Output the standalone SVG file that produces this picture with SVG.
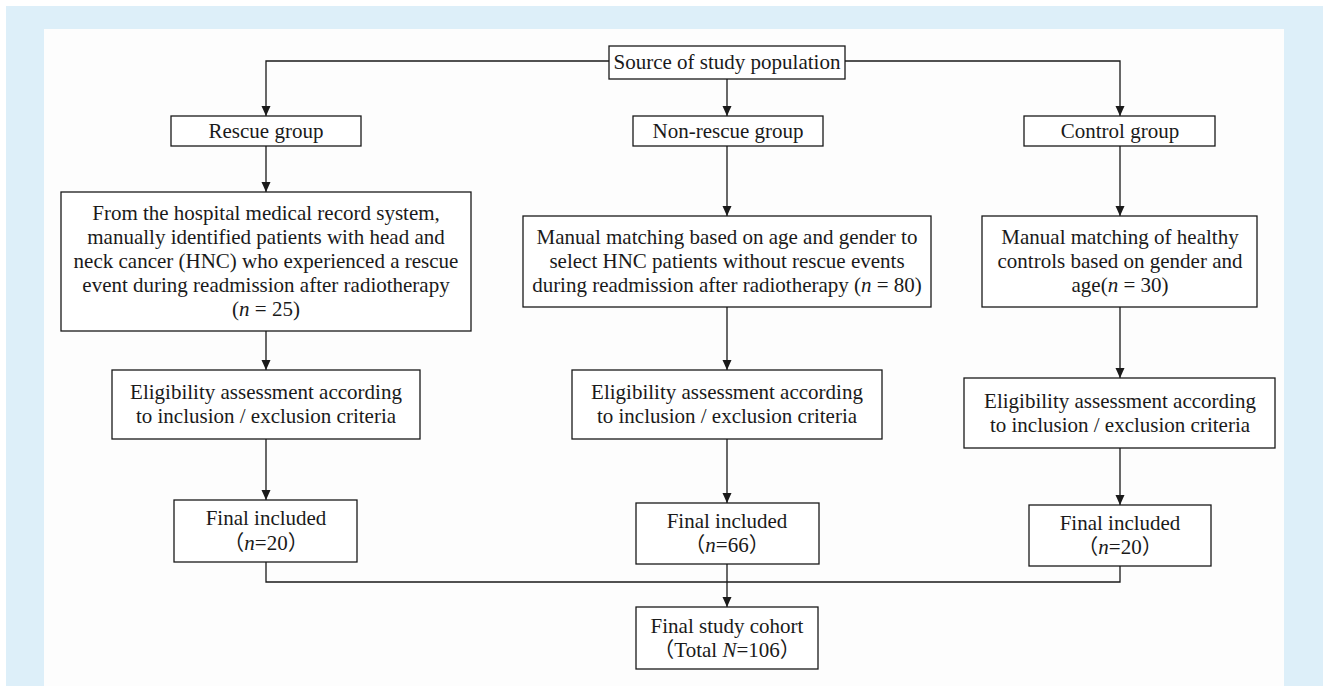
<svg xmlns="http://www.w3.org/2000/svg" width="1323" height="686" viewBox="0 0 1323 686">
  <defs>
    <marker id="arr" markerUnits="userSpaceOnUse" markerWidth="10" markerHeight="10" refX="10" refY="5" orient="auto">
      <path d="M0,0.5 L10,5 L0,9.5 z" fill="#1a1a1a"/>
    </marker>
    <style>
      .box { fill: #ffffff; stroke: #1a1a1a; stroke-width: 1.3; }
      .t { font-family: "Liberation Serif", "Noto Sans CJK SC", serif; font-size: 21px; fill: #1a1a1a; text-anchor: middle; }
      .c { fill: none; stroke: #1a1a1a; stroke-width: 1.3; }
      .a { marker-end: url(#arr); }
    </style>
  </defs>

  <rect x="0" y="0" width="1323" height="686" fill="#ffffff"/>
  <rect x="6" y="6" width="1317" height="680" fill="#ddeff9"/>
  <rect x="44" y="29" width="1240" height="657" fill="#fdfdfd"/>

  <g id="connectors">
    <polyline class="c a" points="609,61 266,61 266,116"/>
    <polyline class="c a" points="845,61 1120,61 1120,116"/>
    <line class="c a" x1="727" y1="79" x2="727" y2="116"/>
    <line class="c a" x1="266" y1="146" x2="266" y2="192"/>
    <line class="c a" x1="727" y1="146" x2="727" y2="216"/>
    <line class="c a" x1="1120" y1="146" x2="1120" y2="216"/>
    <line class="c a" x1="266" y1="331" x2="266" y2="370"/>
    <line class="c a" x1="727" y1="307" x2="727" y2="370"/>
    <line class="c a" x1="1120" y1="307" x2="1120" y2="378"/>
    <line class="c a" x1="266" y1="439" x2="266" y2="500"/>
    <line class="c a" x1="727" y1="439" x2="727" y2="503"/>
    <line class="c a" x1="1120" y1="448" x2="1120" y2="505"/>
    <polyline class="c" points="266,562 266,582 1120,582 1120,566"/>
    <line class="c a" x1="727" y1="564" x2="727" y2="607"/>
  </g>

  <g id="source">
    <rect class="box" x="609" y="46" width="236" height="33"/>
    <text class="t" x="727" y="69">Source of study population</text>
  </g>

  <g id="rescue">
    <rect class="box" x="171" y="116" width="190" height="30"/>
    <text class="t" x="266" y="138">Rescue group</text>
  </g>
  <g id="nonrescue">
    <rect class="box" x="633" y="116" width="190" height="30"/>
    <text class="t" x="728" y="138">Non-rescue group</text>
  </g>
  <g id="control">
    <rect class="box" x="1024" y="116" width="191" height="30"/>
    <text class="t" x="1120" y="138">Control group</text>
  </g>

  <g id="rescue-source">
    <rect class="box" x="61" y="192" width="410" height="139"/>
    <text class="t" x="266" y="220">From the hospital medical record system,</text>
    <text class="t" x="266" y="244">manually identified patients with head and</text>
    <text class="t" x="266" y="268">neck cancer (HNC) who experienced a rescue</text>
    <text class="t" x="266" y="292">event during readmission after radiotherapy</text>
    <text class="t" x="266" y="316">(<tspan font-style="italic">n</tspan> = 25)</text>
  </g>
  <g id="nonrescue-source">
    <rect class="box" x="523" y="216" width="408" height="91"/>
    <text class="t" x="727" y="244">Manual matching based on age and gender to</text>
    <text class="t" x="727" y="268">select HNC patients without rescue events</text>
    <text class="t" x="727" y="292">during readmission after radiotherapy (<tspan font-style="italic">n</tspan> = 80)</text>
  </g>
  <g id="control-source">
    <rect class="box" x="982" y="216" width="275" height="91"/>
    <text class="t" x="1120" y="244">Manual matching of healthy</text>
    <text class="t" x="1120" y="268">controls based on gender and</text>
    <text class="t" x="1120" y="292">age(<tspan font-style="italic">n</tspan> = 30)</text>
  </g>

  <g id="rescue-elig">
    <rect class="box" x="112" y="370" width="308" height="69"/>
    <text class="t" x="266" y="399">Eligibility assessment according</text>
    <text class="t" x="266" y="423">to inclusion / exclusion criteria</text>
  </g>
  <g id="nonrescue-elig">
    <rect class="box" x="572" y="370" width="310" height="69"/>
    <text class="t" x="727" y="399">Eligibility assessment according</text>
    <text class="t" x="727" y="423">to inclusion / exclusion criteria</text>
  </g>
  <g id="control-elig">
    <rect class="box" x="964" y="378" width="311" height="70"/>
    <text class="t" x="1120" y="408">Eligibility assessment according</text>
    <text class="t" x="1120" y="432">to inclusion / exclusion criteria</text>
  </g>

  <g id="rescue-final">
    <rect class="box" x="174" y="500" width="183" height="62"/>
    <text class="t" x="266" y="525">Final included</text>
    <text class="t" x="266" y="550">（<tspan font-style="italic">n</tspan>=20）</text>
  </g>
  <g id="nonrescue-final">
    <rect class="box" x="636" y="503" width="183" height="61"/>
    <text class="t" x="727" y="528">Final included</text>
    <text class="t" x="727" y="552">（<tspan font-style="italic">n</tspan>=66）</text>
  </g>
  <g id="control-final">
    <rect class="box" x="1029" y="505" width="182" height="61"/>
    <text class="t" x="1120" y="530">Final included</text>
    <text class="t" x="1120" y="554">（<tspan font-style="italic">n</tspan>=20）</text>
  </g>

  <g id="cohort">
    <rect class="box" x="636" y="607" width="182" height="62"/>
    <text class="t" x="727" y="633">Final study cohort</text>
    <text class="t" x="727" y="657">（Total <tspan font-style="italic">N</tspan>=106）</text>
  </g>
</svg>
